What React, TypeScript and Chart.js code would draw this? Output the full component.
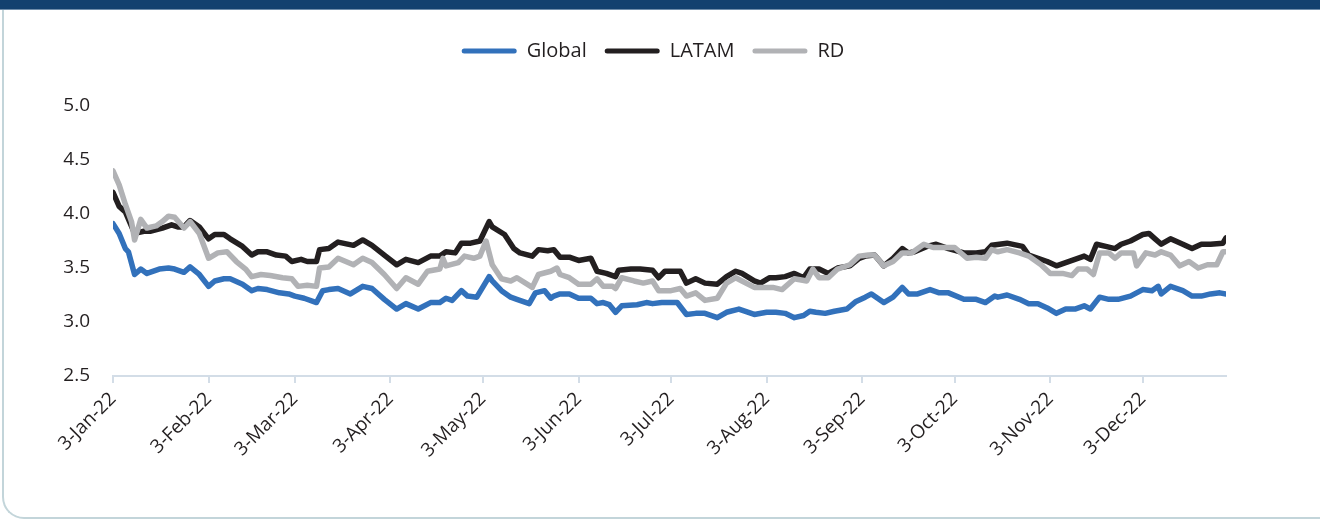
import React, { useEffect, useRef } from "react";
import { Chart, registerables } from "chart.js";

Chart.register(...registerables);

// ---- Data (x = calendar days after 3-Jan-22) ----
const tickDays = [0, 31, 59, 90, 120, 151, 181, 212, 243, 273, 304, 334];
const tickLabels = [
  "3-Jan-22", "3-Feb-22", "3-Mar-22", "3-Apr-22", "3-May-22", "3-Jun-22",
  "3-Jul-22", "3-Aug-22", "3-Sep-22", "3-Oct-22", "3-Nov-22", "3-Dec-22",
];
const yTicks = [2.5, 3.0, 3.5, 4.0, 4.5, 5.0];

const seriesNames = ["Global", "LATAM", "RD"];
const seriesColors = ["#3271bb", "#231f20", "#b1b2b5"];

const globalDays = [0, 2, 4, 5, 7, 9, 11, 15, 18, 20, 23, 25, 28, 31, 33, 36, 38, 42, 45, 47, 50, 54, 57, 59, 62, 66, 68, 70, 73, 77, 81, 84, 88, 92, 95, 99, 103, 106, 108, 110, 113, 115, 118, 122, 123, 126, 129, 131, 135, 137, 140, 142, 143, 145, 148, 151, 155, 157, 159, 161, 163, 165, 170, 173, 175, 178, 183, 186, 189, 192, 196, 199, 203, 208, 212, 215, 218, 221, 224, 226, 228, 231, 234, 238, 241, 244, 246, 250, 253, 256, 258, 261, 265, 268, 271, 276, 280, 283, 286, 287, 290, 294, 297, 300, 303, 306, 309, 312, 315, 317, 320, 323, 326, 330, 334, 337, 339, 340, 343, 347, 350, 353, 356, 359, 361];
const globalValues = [3.91, 3.82, 3.68, 3.65, 3.44, 3.49, 3.45, 3.49, 3.50, 3.49, 3.46, 3.51, 3.44, 3.33, 3.38, 3.40, 3.40, 3.35, 3.29, 3.31, 3.30, 3.27, 3.26, 3.24, 3.22, 3.18, 3.29, 3.30, 3.31, 3.26, 3.33, 3.31, 3.21, 3.12, 3.17, 3.12, 3.18, 3.18, 3.22, 3.20, 3.29, 3.24, 3.23, 3.42, 3.38, 3.29, 3.23, 3.21, 3.17, 3.27, 3.29, 3.22, 3.24, 3.26, 3.26, 3.22, 3.22, 3.17, 3.18, 3.16, 3.09, 3.15, 3.16, 3.18, 3.17, 3.18, 3.18, 3.07, 3.08, 3.08, 3.04, 3.09, 3.12, 3.07, 3.09, 3.09, 3.08, 3.04, 3.06, 3.10, 3.09, 3.08, 3.10, 3.12, 3.19, 3.23, 3.26, 3.18, 3.23, 3.32, 3.26, 3.26, 3.30, 3.27, 3.27, 3.21, 3.21, 3.18, 3.24, 3.23, 3.25, 3.21, 3.17, 3.17, 3.13, 3.08, 3.12, 3.12, 3.15, 3.12, 3.23, 3.21, 3.21, 3.24, 3.30, 3.29, 3.33, 3.26, 3.33, 3.29, 3.24, 3.24, 3.26, 3.27, 3.26];

const latamDays = [0, 2, 4, 7, 10, 12, 16, 19, 21, 23, 25, 28, 31, 33, 36, 38, 42, 45, 47, 50, 53, 56, 58, 61, 63, 66, 67, 70, 73, 78, 81, 84, 88, 92, 95, 99, 103, 106, 108, 111, 113, 116, 119, 122, 123, 127, 130, 132, 136, 138, 141, 143, 145, 148, 151, 155, 157, 160, 163, 164, 168, 171, 175, 177, 179, 184, 186, 189, 192, 196, 199, 202, 204, 208, 210, 213, 215, 218, 221, 224, 226, 229, 232, 235, 239, 242, 244, 247, 250, 253, 256, 258, 260, 264, 267, 271, 276, 280, 283, 285, 290, 295, 297, 300, 303, 306, 309, 312, 315, 317, 319, 322, 325, 327, 330, 334, 336, 338, 340, 343, 347, 350, 353, 356, 360, 361];
const latamValues = [4.20, 4.07, 4.02, 3.82, 3.84, 3.84, 3.87, 3.90, 3.88, 3.88, 3.94, 3.88, 3.77, 3.81, 3.81, 3.77, 3.70, 3.62, 3.65, 3.65, 3.62, 3.61, 3.56, 3.58, 3.56, 3.56, 3.67, 3.68, 3.74, 3.71, 3.76, 3.71, 3.62, 3.53, 3.58, 3.55, 3.61, 3.61, 3.65, 3.64, 3.73, 3.73, 3.75, 3.93, 3.88, 3.81, 3.68, 3.64, 3.61, 3.67, 3.66, 3.67, 3.60, 3.60, 3.57, 3.59, 3.47, 3.45, 3.42, 3.48, 3.49, 3.49, 3.48, 3.41, 3.47, 3.47, 3.36, 3.40, 3.36, 3.35, 3.42, 3.47, 3.45, 3.38, 3.36, 3.41, 3.41, 3.42, 3.45, 3.41, 3.49, 3.49, 3.45, 3.50, 3.52, 3.59, 3.61, 3.62, 3.52, 3.59, 3.68, 3.64, 3.65, 3.70, 3.72, 3.68, 3.64, 3.64, 3.65, 3.71, 3.73, 3.70, 3.62, 3.59, 3.56, 3.52, 3.55, 3.58, 3.61, 3.58, 3.72, 3.70, 3.68, 3.72, 3.75, 3.81, 3.82, 3.77, 3.72, 3.77, 3.72, 3.68, 3.72, 3.72, 3.73, 3.78];

const rdDays = [0, 2, 4, 6, 7, 9, 11, 14, 16, 18, 20, 23, 25, 28, 31, 34, 37, 40, 43, 45, 48, 51, 55, 58, 60, 63, 66, 67, 70, 73, 78, 81, 84, 88, 92, 95, 99, 102, 106, 107, 108, 112, 114, 117, 119, 121, 123, 126, 129, 131, 136, 138, 142, 144, 145, 148, 151, 155, 157, 159, 162, 163, 165, 169, 172, 175, 177, 181, 184, 186, 189, 192, 196, 199, 202, 204, 208, 210, 214, 217, 221, 225, 227, 229, 232, 235, 239, 242, 245, 247, 250, 253, 256, 259, 263, 266, 269, 273, 277, 280, 283, 285, 287, 290, 294, 297, 301, 304, 308, 311, 313, 316, 318, 320, 323, 325, 327, 331, 332, 335, 338, 340, 343, 346, 349, 352, 355, 358, 360, 361];
const rdValues = [4.40, 4.27, 4.09, 3.93, 3.76, 3.95, 3.87, 3.89, 3.93, 3.98, 3.97, 3.87, 3.93, 3.82, 3.59, 3.64, 3.65, 3.56, 3.49, 3.42, 3.44, 3.43, 3.41, 3.40, 3.33, 3.34, 3.33, 3.50, 3.51, 3.59, 3.53, 3.59, 3.55, 3.44, 3.31, 3.41, 3.35, 3.47, 3.49, 3.59, 3.52, 3.55, 3.61, 3.59, 3.61, 3.75, 3.53, 3.40, 3.38, 3.41, 3.32, 3.44, 3.47, 3.50, 3.44, 3.41, 3.35, 3.35, 3.40, 3.33, 3.33, 3.31, 3.41, 3.38, 3.36, 3.38, 3.29, 3.29, 3.31, 3.24, 3.27, 3.20, 3.22, 3.36, 3.41, 3.38, 3.32, 3.32, 3.32, 3.30, 3.40, 3.38, 3.49, 3.41, 3.41, 3.49, 3.53, 3.61, 3.62, 3.62, 3.52, 3.56, 3.64, 3.64, 3.72, 3.69, 3.69, 3.69, 3.59, 3.60, 3.59, 3.67, 3.65, 3.67, 3.64, 3.61, 3.53, 3.45, 3.45, 3.43, 3.49, 3.49, 3.44, 3.64, 3.64, 3.59, 3.64, 3.64, 3.52, 3.64, 3.62, 3.65, 3.62, 3.52, 3.56, 3.50, 3.53, 3.53, 3.65, 3.65];

const FONT = "'Open Sans', 'Noto Sans', sans-serif";
const TEXT = "#231f20";
const AXIS = "#d3dde7";

const toPoints = (days: number[], vals: number[]) => days.map((d, i) => ({ x: d, y: vals[i] }));

const legendGap = {
  id: "legendGap",
  beforeInit(chart: any) {
    const lg = chart.legend;
    if (lg && !lg.__patched) {
      const origFit = lg.fit;
      lg.fit = function () {
        origFit.call(this);
        this.height += 35;
      };
      const origDraw = lg.draw;
      lg.draw = function () {
        const ctx = this.ctx;
        ctx.save();
        ctx.translate(14, 0);
        origDraw.call(this);
        ctx.restore();
      };
      lg.__patched = true;
    }
  },
};

export default function App() {
  const ref = useRef<HTMLCanvasElement | null>(null);

  useEffect(() => {
    if (!ref.current) return;
    const allDays = [globalDays, latamDays, rdDays];
    const allVals = [globalValues, latamValues, rdValues];
    const orders = [0, 2, 1];
    const chart = new Chart(ref.current, {
      type: "line",
      data: {
        datasets: seriesNames.map((name, i) => ({
          label: name,
          data: toPoints(allDays[i], allVals[i]),
          borderColor: seriesColors[i],
          backgroundColor: seriesColors[i],
          borderWidth: 5.5,
          pointRadius: 0,
          tension: 0,
          borderJoinStyle: "round" as const,
          borderCapStyle: "round" as const,
          order: orders[i],
        })),
      },
      options: {
        animation: false,
        responsive: false,
        devicePixelRatio: 1,
        layout: { padding: { top: 23, left: 52, right: 94, bottom: 45 } },
        plugins: {
          tooltip: { enabled: false },
          legend: {
            position: "top",
            align: "center",
            labels: {
              font: { family: FONT, size: 20 },
              color: TEXT,
              boxWidth: 55,
              boxHeight: 5,
              padding: 18,
              useBorderRadius: true,
              borderRadius: 2.5,
              sort: (a: any, b: any) => a.datasetIndex - b.datasetIndex,
              generateLabels: (c: any) =>
                Chart.defaults.plugins.legend.labels.generateLabels(c).map((it: any) => ({ ...it, lineWidth: 0 })),
            },
          },
        },
        scales: {
          x: {
            type: "linear",
            min: 0,
            max: 361,
            afterFit: (s: any) => { s.height = 100; },
            afterBuildTicks: (s: any) => { s.ticks = tickDays.map((v) => ({ value: v })); },
            grid: { display: true, drawOnChartArea: false, drawTicks: true, tickLength: 7, color: AXIS, lineWidth: 2 },
            border: { display: true, color: AXIS, width: 2 },
            ticks: {
              autoSkip: false,
              maxRotation: 45,
              minRotation: 45,
              padding: 5,
              color: TEXT,
              font: { family: FONT, size: 19 },
              callback: (v: any) => {
                const idx = tickDays.indexOf(Number(v));
                return idx >= 0 ? tickLabels[idx] : "";
              },
            },
          },
          y: {
            min: 2.5,
            max: 5.0,
            afterFit: (s: any) => { s.width = 61; },
            afterBuildTicks: (s: any) => { s.ticks = yTicks.map((v) => ({ value: v })); },
            grid: { display: false, drawTicks: false },
            border: { display: false },
            ticks: {
              padding: 23,
              color: TEXT,
              font: { family: FONT, size: 19 },
              callback: (v: any) => Number(v).toFixed(1),
            },
          },
        },
      },
      plugins: [legendGap],
    });
    return () => chart.destroy();
  }, []);

  return (
    <div style={{ position: "fixed", left: 0, top: 0, width: 1320, height: 521, background: "#ffffff", overflow: "hidden" }}>
      <div style={{ position: "absolute", left: 0, top: 0, width: 1320, height: 9, background: "#12416f" }} />
      <div style={{ position: "absolute", left: 0, top: 9, width: 1320, height: 1, background: "#6e8daa" }} />
      <div
        style={{
          position: "absolute",
          left: 2,
          top: 10,
          width: 1400,
          height: 507,
          borderLeft: "2px solid #c3d5da",
          borderBottom: "2px solid #c3d5da",
          borderBottomLeftRadius: 22,
        }}
      />
      <canvas ref={ref} width={1320} height={521} style={{ position: "absolute", left: 0, top: 0, display: "block" }} />
    </div>
  );
}
